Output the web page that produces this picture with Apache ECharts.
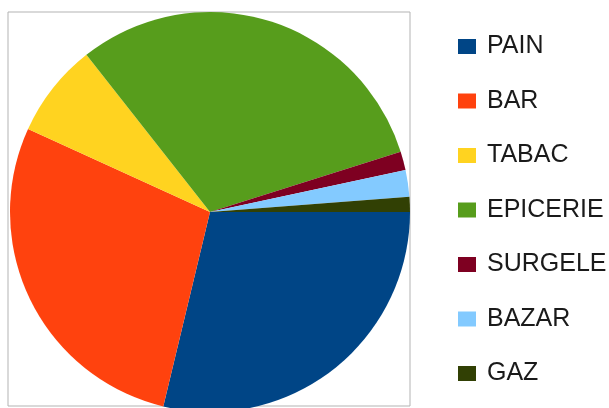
<!DOCTYPE html>
<html>
<head>
<meta charset="utf-8">
<script src="https://cdn.jsdelivr.net/npm/echarts@6/dist/echarts.min.js"></script>
<style>
  html, body { margin: 0; padding: 0; background: #fff; }
  #chart { width: 609px; height: 408px; }
</style>
</head>
<body>
<div id="chart"></div>
<script>
var categories = ['PAIN', 'BAR', 'TABAC', 'EPICERIE', 'SURGELE', 'BAZAR', 'GAZ'];
var values = [28.75, 28.06, 7.58, 30.72, 1.51, 2.15, 1.22];
var colors = ['#004586', '#ff420e', '#ffd320', '#579d1c', '#7e0021', '#83caff', '#314004'];

var chart = echarts.init(document.getElementById('chart'));

var pieData = categories.map(function (name, i) {
  return { name: name, value: values[i], itemStyle: { color: colors[i] } };
});

chart.setOption({
  animation: false,
  graphic: [
    {
      type: 'rect',
      shape: { x: 8, y: 12, width: 402, height: 394 },
      style: { fill: 'none', stroke: '#b3b3b3', lineWidth: 1 },
      z: -1
    }
  ],
  legend: {
    orient: 'vertical',
    left: 458,
    top: 34,
    padding: 0,
    itemWidth: 18,
    itemHeight: 15,
    itemGap: 29.5,
    icon: 'rect',
    textStyle: {
      fontFamily: 'Liberation Sans',
      fontSize: 25,
      color: '#1a1a1a',
      padding: [0, 0, 0, 6]
    },
    data: categories
  },
  series: [
    {
      name: 'Dépenses',
      type: 'pie',
      center: [210, 212],
      radius: 200,
      startAngle: 0,
      clockwise: true,
      label: { show: false },
      labelLine: { show: false },
      emphasis: { disabled: true },
      data: pieData
    }
  ]
});
</script>
</body>
</html>
